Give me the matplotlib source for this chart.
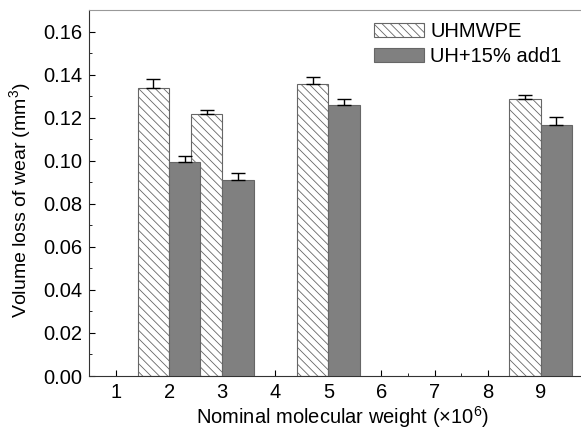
import numpy as np
import matplotlib
matplotlib.use('Agg')
import matplotlib.pyplot as plt
from matplotlib.ticker import MultipleLocator

plt.rcParams['font.family'] = ['Liberation Sans', 'DejaVu Sans']
plt.rcParams['mathtext.fontset'] = 'custom'
plt.rcParams['mathtext.rm'] = 'Liberation Sans'
plt.rcParams['hatch.linewidth'] = 0.6
plt.rcParams['hatch.color'] = '#777777'

# data
mol_weight = [2, 3, 5, 9]
uhmwpe = [0.134, 0.1216, 0.1357, 0.1287]
uhmwpe_err = [0.004, 0.002, 0.003, 0.002]
uh_add1 = [0.0993, 0.0912, 0.1257, 0.1165]
uh_add1_err = [0.003, 0.003, 0.003, 0.004]

x = np.array(mol_weight)
w = 0.59

fig = plt.figure(figsize=(5.81, 4.29), dpi=100)
# the original plot is cropped on the right, so the axes run past the figure edge
ax = fig.add_axes([0.153, 0.1235, 0.871, 0.853])

ax.bar(x - w / 2, uhmwpe, w, color='white', edgecolor='#666666', hatch='\\\\\\\\',
       linewidth=0.8, label='UHMWPE', zorder=2)
ax.errorbar(x - w / 2, uhmwpe, yerr=[np.zeros(4), uhmwpe_err], fmt='none',
            ecolor='black', elinewidth=1, capsize=5, capthick=1, zorder=3)
ax.bar(x + w / 2, uh_add1, w, color='#808080', edgecolor='#666666',
       linewidth=0.8, label='UH+15% add1', zorder=4)
ax.errorbar(x + w / 2, uh_add1, yerr=[np.zeros(4), uh_add1_err], fmt='none',
            ecolor='black', elinewidth=1, capsize=5, capthick=1, zorder=5)

ax.set_xlim(0.49, 10.02)
ax.set_ylim(0, 0.17)
ax.set_xticks(range(1, 10))
ax.xaxis.set_minor_locator(MultipleLocator(0.5))
ax.set_yticks(np.arange(0, 0.161, 0.02))
ax.yaxis.set_minor_locator(MultipleLocator(0.01))
ax.set_yticklabels(['%.2f' % v for v in np.arange(0, 0.161, 0.02)])
ax.tick_params(which='both', direction='in', labelsize=14.5, top=False, right=False)
ax.tick_params(which='major', length=4, pad=5)
ax.tick_params(which='minor', length=2)
for s in ax.spines.values():
    s.set_color('#333333')
    s.set_linewidth(0.8)
ax.spines['top'].set_color('#999999')
ax.spines['right'].set_visible(False)

ax.set_xlabel('Nominal molecular weight (\u00d710$^6$)', fontsize=14.5, labelpad=1.5)
ax.set_ylabel('Volume loss of wear (mm$^3$)', fontsize=14)
ax.yaxis.set_label_coords(-0.108, 0.48)

ax.legend(loc='upper right', frameon=False, fontsize=14.5, handlelength=2.5,
          handleheight=0.75, handletextpad=0.3, labelspacing=0.3,
          bbox_to_anchor=(0.970, 1.017))

fig.savefig('out.png', dpi=100)
